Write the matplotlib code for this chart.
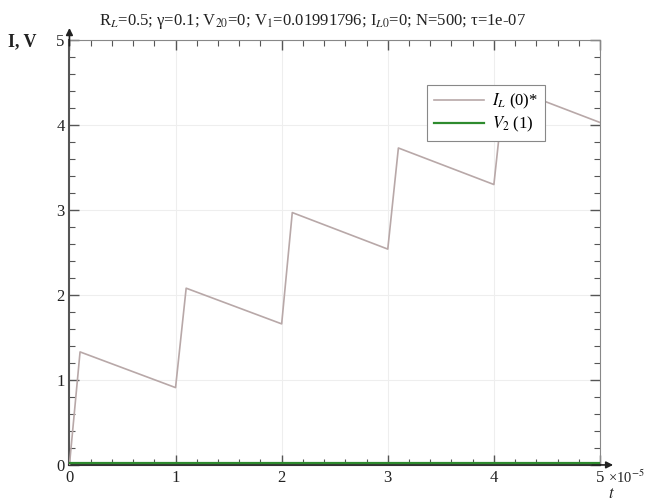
import matplotlib
matplotlib.use("Agg")
import matplotlib.pyplot as plt
from matplotlib.ticker import MultipleLocator

# data (t in units of 1e-5)
t_IL = [0.0, 0.1, 1.0, 1.1, 2.0, 2.1, 3.0, 3.1, 4.0, 4.1, 5.0]
I_L = [0.0, 1.33, 0.91, 2.08, 1.66, 2.97, 2.54, 3.73, 3.30, 4.46, 4.03]
t_V2 = [0.0, 5.0]
V_2 = [0.0199, 0.0199]

title = r"R$_L$=0.5; γ=0.1; V$_{20}$=0; V$_1$=0.01991796; I$_{L0}$=0; N=500; τ=1e-07"
xticks = [0, 1, 2, 3, 4, 5]
yticks = [0, 1, 2, 3, 4, 5]

plt.rcParams['font.family'] = ['Liberation Serif', 'DejaVu Serif']
plt.rcParams['mathtext.fontset'] = 'stix'

fig = plt.figure(figsize=(6.49, 5.01), dpi=100)
ax = fig.add_axes([0.107, 0.072, 0.8175, 0.848])

ax.plot(t_IL, I_L, color='#b8a8a8', lw=1.2, label=r'$I_L$ (0)*', zorder=3)
ax.plot(t_V2, V_2, color='#2e8b2e', lw=1.6, label=r'$V_2$ (1)', zorder=4)

ax.set_xlim(0, 5)
ax.set_ylim(0, 5)
ax.set_xticks(xticks)
ax.set_yticks(yticks)
ax.xaxis.set_minor_locator(MultipleLocator(0.2))
ax.yaxis.set_minor_locator(MultipleLocator(0.2))
ax.tick_params(which='both', direction='in', top=True, right=True, colors='#555555',
               labelcolor='#222222', labelsize=12)
ax.tick_params(which='major', length=7, width=1)
ax.tick_params(which='minor', length=4, width=0.8)
ax.grid(True, which='major', color='#eeeeee', lw=0.8)
for s in ['top', 'right']:
    ax.spines[s].set_color('#888888')
ax.spines['left'].set_color('#555555')
ax.spines['left'].set_linewidth(1.5)
ax.spines['bottom'].set_color('#333333')
ax.spines['bottom'].set_linewidth(1.5)

fig.text(0.481, 0.958, title, fontsize=12, ha='center', va='center', color='#222222')

# axis arrows
ax.annotate('', xy=(0, 1.035), xytext=(0, 0.98), xycoords='axes fraction',
            arrowprops=dict(arrowstyle='-|>', color='#222222', lw=1.2, mutation_scale=10),
            annotation_clip=False)
ax.annotate('', xy=(1.03, 0), xytext=(0.98, 0), xycoords='axes fraction',
            arrowprops=dict(arrowstyle='-|>', color='#222222', lw=1.2, mutation_scale=10),
            annotation_clip=False)

fig.text(0.012, 0.908, 'I, V', fontsize=13, fontweight='bold', color='#222222')
fig.text(0.937, 0.036, r'×10$^{-5}$', fontsize=10.5, color='#222222')
fig.text(0.937, 0.006, r'$t$', fontsize=12, color='#222222')

leg = ax.legend(loc='upper right', bbox_to_anchor=(0.896, 0.894), fontsize=12,
                frameon=True, fancybox=False, edgecolor='#888888', framealpha=1,
                handlelength=3.0, borderpad=0.4, labelspacing=0.25, handletextpad=0.5,
                borderaxespad=0)
leg.get_frame().set_linewidth(0.8)

fig.savefig('out.png', dpi=100)
